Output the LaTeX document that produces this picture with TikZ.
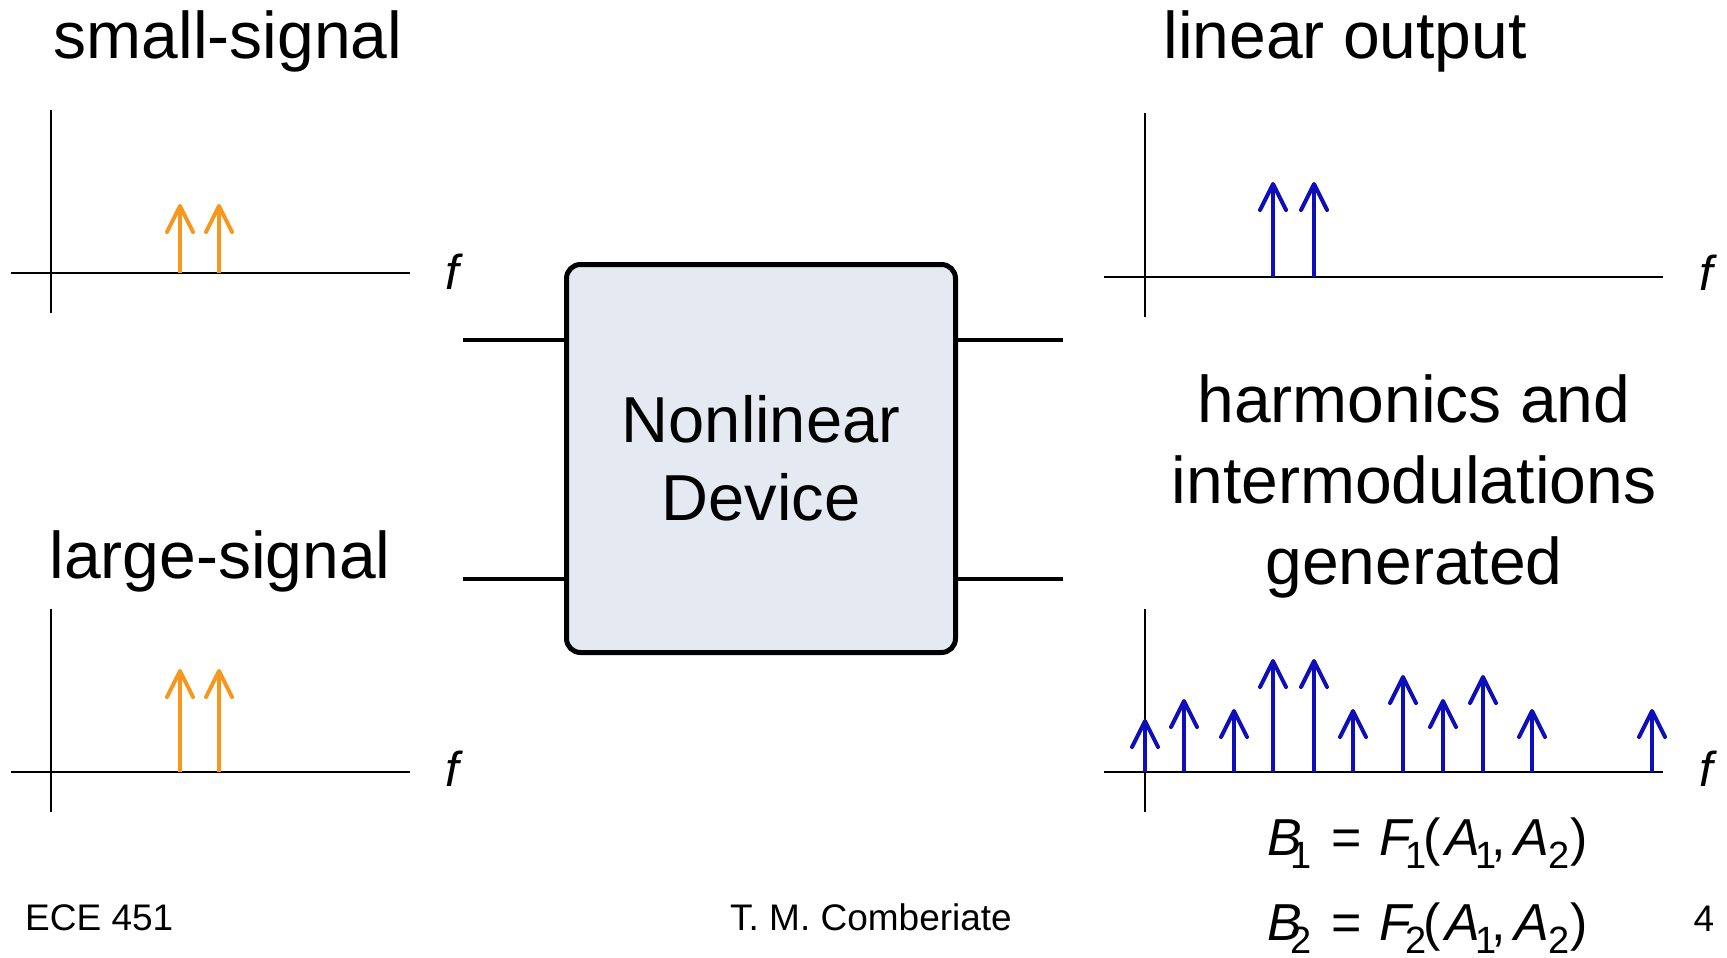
\documentclass[tikz,border=0pt]{standalone}
\usepackage{graphicx}
\usepackage{fontspec}
\setmainfont{Liberation Sans}
\usetikzlibrary{arrows.meta}
\definecolor{tone}{RGB}{247,151,29}
\definecolor{prod}{RGB}{14,14,186}
\definecolor{devfill}{RGB}{229,234,242}
% lowered index digits of the transfer equations
\newcommand{\lowsub}[1]{\raisebox{-13pt}{\upshape\fontsize{38}{38}\selectfont #1}}
\newcommand{\eqline}[1]{%
\fontsize{52}{52}\selectfont
\textit{B}\kern-11pt\lowsub{#1}\kern19pt=\kern17.7pt\textit{F}\kern-7.5pt\lowsub{#1}\kern-3.6pt(\kern4.8pt\textit{A}\kern-4.5pt\lowsub{1}\kern-5pt,\kern8pt\textit{A}\kern-0.5pt\lowsub{2}\kern1.4pt)}
\begin{document}
\begin{tikzpicture}[x=1pt,y=-1pt,
  axis/.style={line width=2.6pt, black},
  tonearrow/.style={line width=4pt, tone, -{Straight Barb[length=26pt,width=26pt,round]}},
  prodarrow/.style={line width=4pt, prod, -{Straight Barb[length=26pt,width=26pt,round]}},
  lead/.style={line width=4.5pt, black},
  title/.style={font=\fontsize{66}{79}\selectfont, inner sep=0pt, anchor=base},
  flabel/.style={font=\itshape\fontsize{49}{49}\selectfont, inner sep=0pt},
  foot/.style={font=\fontsize{37}{37}\selectfont, inner sep=0pt, anchor=base},
  eqn/.style={inner sep=0pt, anchor=base west},
]
\useasboundingbox[fill=white] (0,0) rectangle (1727,958);

% titles
\node[title] (tsmall) at (228,59) {small-signal};
\node[title] (tlarge) at (220,578) {large-signal};
\node[title] (tlin) at (1345,59) {linear output};
\node[font=\fontsize{66}{81}\selectfont, inner sep=0pt, align=center] (tharm) at (1414,486)
  {harmonics and\\intermodulations\\generated};

% small-signal input spectrum
\draw[axis] (11,273) -- (410,273);
\draw[axis] (51,110) -- (51,313);
\foreach \x in {180,219} \draw[tonearrow] (\x,273) -- (\x,204);
\node[flabel] (f1) at (452,272) {f};

% large-signal input spectrum
\draw[axis] (11,772) -- (410,772);
\draw[axis] (51,609) -- (51,812);
\foreach \x in {180,219} \draw[tonearrow] (\x,772) -- (\x,669);
\node[flabel] (f2) at (452,769) {f};

% linear output spectrum
\draw[axis] (1104,277) -- (1663,277);
\draw[axis] (1145,113) -- (1145,317);
\foreach \x in {1273,1314} \draw[prodarrow] (\x,277) -- (\x,182);
\node[flabel] (f3) at (1706,273) {f};

% output spectrum with harmonics and intermodulation products
\draw[axis] (1104,772) -- (1663,772);
\draw[axis] (1145,609) -- (1145,812);
\foreach \x/\t in {1145/717,1184/697,1234/707,1273/657,1314/657,1353/707,
                   1403/673,1443/697,1483/673,1532/707,1652/707}
  \draw[prodarrow] (\x,772) -- (\x,\t+2);
\node[flabel] (f4) at (1706,769) {f};

% the device block and its terminals
\node[draw, line width=5pt, fill=devfill, rounded corners=14pt,
      minimum width=389pt, minimum height=388pt, inner sep=0pt,
      align=center, font=\fontsize{65}{78}\selectfont] (dev) at (761,458.5) {Nonlinear\\Device};
\coordinate (inA) at (463,340);
\coordinate (inB) at (463,579);
\coordinate (outA) at (1063,340);
\coordinate (outB) at (1063,579);
\draw[lead] (inA) -- (inA -| dev.west);
\draw[lead] (inB) -- (inB -| dev.west);
\draw[lead] (dev.east |- outA) -- (outA);
\draw[lead] (dev.east |- outB) -- (outB);

% transfer equations
\node[eqn] (eq1) at (1267,855) {\eqline{1}};
\node[eqn] (eq2) at (1267,940) {\eqline{2}};

% footer
\node[foot, anchor=base west] (course) at (25,930) {ECE 451};
\node[foot] (author) at (871,930) {T. M. Comberiate};
\node[foot] (page) at (1704,931) {4};
\end{tikzpicture}
\end{document}
